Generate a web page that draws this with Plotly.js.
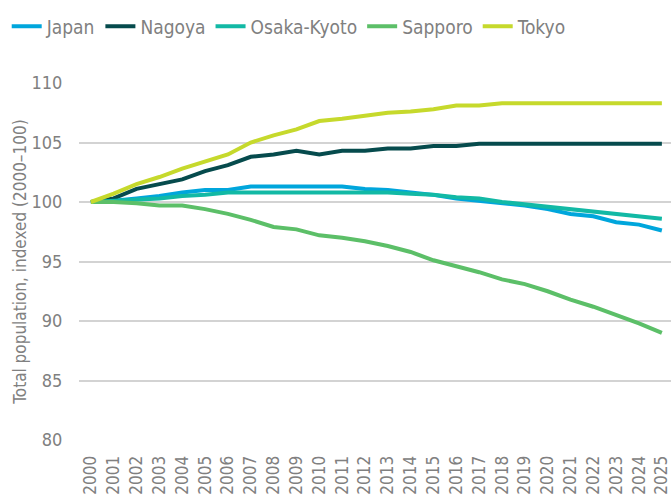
<!DOCTYPE html>
<html>
<head>
<meta charset="utf-8">
<script src="https://cdn.plot.ly/plotly-3.0.1.min.js"></script>
<style>
  html, body { margin: 0; padding: 0; background: #fff; }
  #chart { width: 671px; height: 494px; }
</style>
</head>
<body>
<div id="chart"></div>
<script>
// ----- data -----
const years = [2000, 2001, 2002, 2003, 2004, 2005, 2006, 2007, 2008, 2009, 2010, 2011, 2012,
  2013, 2014, 2015, 2016, 2017, 2018, 2019, 2020, 2021, 2022, 2023, 2024, 2025];

const japan = [100, 100.1, 100.3, 100.5, 100.8, 101.0, 101.0, 101.3, 101.3, 101.3, 101.3, 101.3, 101.1,
  101.0, 100.8, 100.6, 100.3, 100.1, 99.9, 99.7, 99.4, 99.0, 98.8, 98.3, 98.1, 97.6];
const nagoya = [100, 100.3, 101.1, 101.5, 101.9, 102.6, 103.1, 103.8, 104.0, 104.3, 104.0, 104.3, 104.3,
  104.5, 104.5, 104.7, 104.7, 104.9, 104.9, 104.9, 104.9, 104.9, 104.9, 104.9, 104.9, 104.9];
const osakaKyoto = [100, 100.1, 100.2, 100.3, 100.5, 100.6, 100.8, 100.8, 100.8, 100.8, 100.8, 100.8, 100.8,
  100.8, 100.7, 100.6, 100.4, 100.3, 100.0, 99.8, 99.6, 99.4, 99.2, 99.0, 98.8, 98.6];
const sapporo = [100, 100, 99.9, 99.7, 99.7, 99.4, 99.0, 98.5, 97.9, 97.7, 97.2, 97.0, 96.7,
  96.3, 95.8, 95.1, 94.6, 94.1, 93.5, 93.1, 92.5, 91.8, 91.2, 90.5, 89.8, 89.0];
const tokyo = [100, 100.7, 101.5, 102.1, 102.8, 103.4, 104.0, 105.0, 105.6, 106.1, 106.8, 107.0, 107.25,
  107.5, 107.6, 107.8, 108.1, 108.1, 108.3, 108.3, 108.3, 108.3, 108.3, 108.3, 108.3, 108.3];

const seriesNames = ["Japan", "Nagoya", "Osaka-Kyoto", "Sapporo", "Tokyo"];
const seriesValues = [japan, nagoya, osakaKyoto, sapporo, tokyo];
const colors = ["#00a6dc", "#064b4d", "#12b9a5", "#5cbf68", "#c6d92c"];

const FONT = "'Liberation Sans Narrow', 'DejaVu Sans Condensed', 'Roboto Condensed', 'Arial Narrow', sans-serif";
const GREY = "#808080";

// ----- traces -----
const traces = seriesNames.map((name, i) => ({
  x: years,
  y: seriesValues[i],
  type: "scatter",
  mode: "lines",
  name: name,
  line: { color: colors[i], width: 4 }
}));

const layout = {
  width: 671,
  height: 494,
  margin: { l: 79, r: 0, t: 83, b: 54 },
  paper_bgcolor: "#fff",
  plot_bgcolor: "#fff",
  font: { family: FONT, color: GREY, size: 19 },
  showlegend: true,
  legend: {
    orientation: "h",
    xref: "container",
    yref: "container",
    x: 0.01,
    y: 0.985,
    xanchor: "left",
    yanchor: "top",
    font: { family: FONT, size: 19, color: GREY },
    itemwidth: 30
  },
  xaxis: {
    range: [1999.48, 2025.4],
    tickmode: "array",
    tickvals: years,
    ticktext: years.map(String),
    tickangle: -90,
    ticks: "outside",
    ticklen: 8,
    tickcolor: "rgba(0,0,0,0)",
    showgrid: false,
    zeroline: false,
    showline: false,
    ticklabeloverflow: "allow",
    tickfont: { family: FONT, size: 17, color: GREY },
    automargin: false
  },
  yaxis: {
    range: [80, 110],
    tickvals: [80, 85, 90, 95, 100, 105, 110],
    ticks: "outside",
    ticklen: 12,
    tickcolor: "rgba(0,0,0,0)",
    showgrid: true,
    gridcolor: "#d3d3d3",
    gridwidth: 2,
    zeroline: false,
    showline: false,
    tickfont: { family: FONT, size: 18, color: GREY },
    title: {
      text: "Total population, indexed (2000\u2013100)",
      font: { family: FONT, size: 17, color: GREY },
      standoff: 0
    },
    automargin: false
  }
};

Plotly.newPlot("chart", traces, layout, { displayModeBar: false, responsive: false });
</script>
</body>
</html>
